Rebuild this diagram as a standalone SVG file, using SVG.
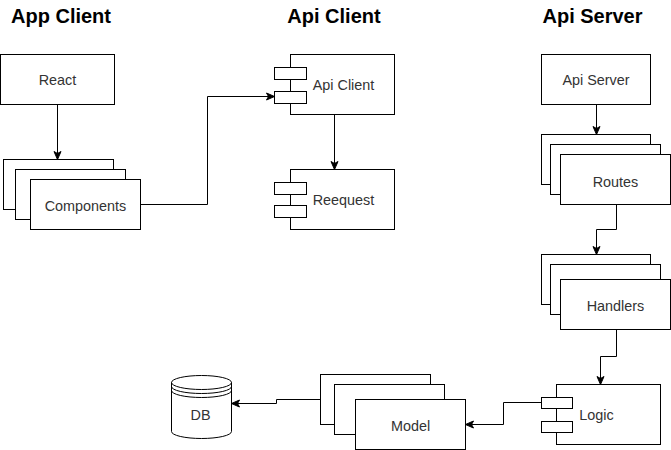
<svg xmlns="http://www.w3.org/2000/svg" width="671" height="450" viewBox="0 0 671 450">
<style>
.box{fill:#fff;stroke:#000;stroke-width:1}
.port{fill:#fff;stroke:#000;stroke-width:1}
.lbl{font-family:"Liberation Sans",Arial,sans-serif;font-size:14.4px;fill:#333;text-anchor:middle;dominant-baseline:central}
.hdr{font-family:"Liberation Sans",Arial,sans-serif;font-size:20px;font-weight:bold;fill:#000;text-anchor:middle}
.edge{fill:none;stroke:#000;stroke-width:1;marker-end:url(#arr)}
</style>
<defs>
<marker id="arr" markerUnits="userSpaceOnUse" markerWidth="10" markerHeight="10" viewBox="0 0 10 10" refX="9" refY="5" orient="auto">
<path d="M1,1.5 L9,5 L1,8.5 L3,5 z" fill="#000" stroke="#000" stroke-width="1"/>
</marker>
</defs>
<g transform="translate(0.5,0.5)">
<g id="headers">
<text class="hdr" x="60.5" y="22">App Client</text>
<text class="hdr" x="333.5" y="22">Api Client</text>
<text class="hdr" x="592" y="22">Api Server</text>
</g>
<g id="edges">
<path class="edge" d="M57,104 V159"/>
<path class="edge" d="M140,204 H207 V96 H274"/>
<path class="edge" d="M334,114 V169"/>
<path class="edge" d="M596,104 V134"/>
<path class="edge" d="M616,204 V229 H596 V254"/>
<path class="edge" d="M616,329 V356 H600 V384"/>
<path class="edge" d="M541,402 H503 V424 H465"/>
<path class="edge" d="M320,399 H276 V403 H231"/>
</g>
<g id="react">
<rect class="box" x="0" y="54" width="114" height="50"/>
<text class="lbl" x="57" y="79">React</text>
</g>
<g id="components">
<rect class="box" x="3" y="159" width="110" height="50"/>
<rect class="box" x="15" y="169" width="110" height="50"/>
<rect class="box" x="30" y="179" width="110" height="50"/>
<text class="lbl" x="85" y="205">Components</text>
</g>
<g id="apiclient">
<rect class="box" x="290" y="54" width="104" height="60"/>
<rect class="port" x="274" y="67" width="32" height="12"/>
<rect class="port" x="274" y="91" width="32" height="12"/>
<text class="lbl" x="343" y="84">Api Client</text>
</g>
<g id="reequest">
<rect class="box" x="290" y="169" width="104" height="60"/>
<rect class="port" x="274" y="182" width="32" height="12"/>
<rect class="port" x="274" y="205" width="32" height="12"/>
<text class="lbl" x="343" y="199">Reequest</text>
</g>
<g id="apiserver">
<rect class="box" x="541" y="54" width="109" height="50"/>
<text class="lbl" x="595.5" y="79">Api Server</text>
</g>
<g id="routes">
<rect class="box" x="541" y="134" width="109" height="50"/>
<rect class="box" x="550" y="144" width="110" height="50"/>
<rect class="box" x="560" y="154" width="110" height="50"/>
<text class="lbl" x="615" y="181">Routes</text>
</g>
<g id="handlers">
<rect class="box" x="541" y="254" width="109" height="50"/>
<rect class="box" x="550" y="264" width="110" height="50"/>
<rect class="box" x="560" y="279" width="110" height="50"/>
<text class="lbl" x="615" y="305">Handlers</text>
</g>
<g id="logic">
<rect class="box" x="556" y="384" width="104" height="60"/>
<rect class="port" x="541" y="397" width="31" height="11"/>
<rect class="port" x="541" y="421" width="31" height="11"/>
<text class="lbl" x="596" y="414">Logic</text>
</g>
<g id="model">
<rect class="box" x="320" y="374" width="110" height="50"/>
<rect class="box" x="334" y="384" width="110" height="50"/>
<rect class="box" x="355" y="399" width="110" height="50"/>
<text class="lbl" x="410" y="425">Model</text>
</g>
<g id="db">
<path class="box" d="M171,382 A30,7 0 0 1 231,382 V431 A30,7 0 0 1 171,431 Z"/>
<path fill="none" stroke="#000" d="M171,382 A30,7 0 0 0 231,382 M171,386 A30,7 0 0 0 231,386 M171,390 A30,7 0 0 0 231,390"/>
<text class="lbl" x="200" y="414">DB</text>
</g>
</g>
</svg>
